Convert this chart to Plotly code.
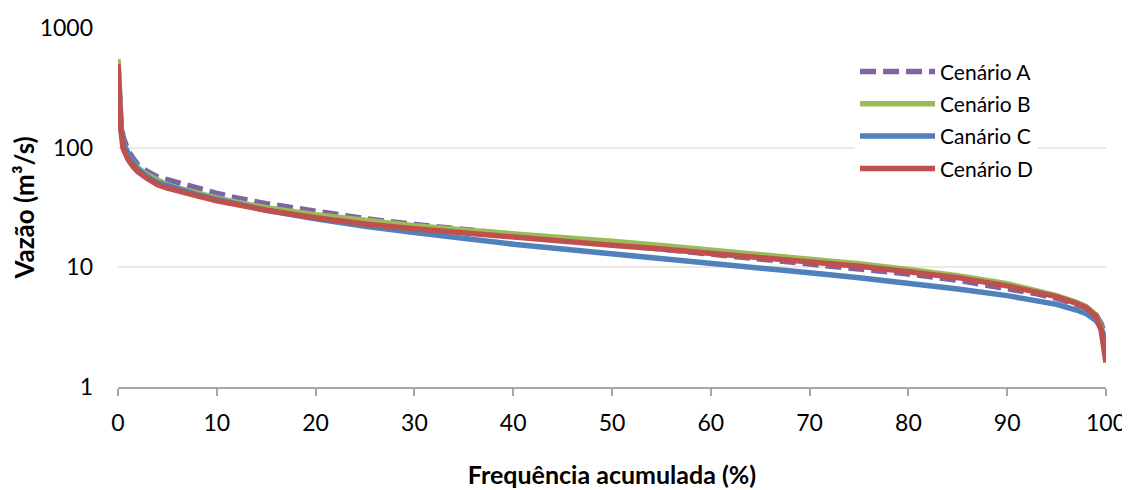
import plotly.graph_objects as go

freq = [0, 0.1, 0.3, 0.5, 1, 1.5, 2, 3, 4, 5, 6, 8, 10, 12, 15, 20, 25, 30, 35, 40,
        45, 50, 55, 60, 65, 70, 75, 80, 85, 90, 93, 95, 97, 98, 99, 99.5, 100]

cen_a = [520, 280, 170, 125, 95, 82, 72, 63, 57, 54, 51, 46, 41.5, 38, 34, 29.5, 25.5, 22.8, 20.6, 18.8,
         17.1, 15.6, 14.2, 12.9, 11.8, 10.8, 9.8, 8.8, 7.8, 6.7, 6.0, 5.5, 4.9, 4.6, 4.0, 3.4, 2.6]
cen_b = [550, 260, 150, 110, 88, 76, 68, 59, 53, 49, 46, 41.5, 38, 35, 31.5, 27.5, 24.5, 22.3, 20.5, 19.2,
         17.8, 16.5, 15.2, 14.0, 12.9, 11.8, 10.7, 9.6, 8.5, 7.3, 6.4, 5.8, 5.1, 4.7, 4.0, 3.2, 2.2]
cen_c = [450, 230, 145, 110, 88, 75, 66, 57, 51, 48, 45, 40.5, 37, 34, 30, 25.5, 22, 19.5, 17.3, 15.6,
         14.2, 12.9, 11.8, 10.7, 9.8, 9.0, 8.2, 7.4, 6.6, 5.8, 5.3, 4.9, 4.4, 4.1, 3.6, 3.1, 2.4]
cen_d = [500, 250, 140, 100, 80, 70, 63, 55, 49, 46, 43.5, 39.5, 36, 33.5, 30, 26, 23, 21, 19.3, 17.8,
         16.5, 15.3, 14.2, 13.1, 12.1, 11.1, 10.2, 9.2, 8.2, 7.0, 6.2, 5.7, 5.0, 4.6, 3.9, 3.0, 1.6]

names = ["Cenário A", "Cenário B", "Canário C", "Cenário D"]
colors = ["#8064A2", "#9BBB59", "#4F81BD", "#C0504D"]
dashes = ["16px,7px", "solid", "solid", "solid"]
x_ticks = [0, 10, 20, 30, 40, 50, 60, 70, 80, 90, 100]
y_ticks = [1, 10, 100, 1000]

FONT = "Lato"

fig = go.Figure()
for i, (name, vals, col, dsh) in enumerate(zip(names, [cen_a, cen_b, cen_c, cen_d], colors, dashes)):
    fig.add_trace(go.Scatter(x=freq, y=vals, mode="lines", name=name, legendgroup=f"g{i}",
                             line=dict(color=col, width=5.5, dash=dsh)))

fig.update_layout(
    width=1130, height=490,
    margin=dict(l=110, r=32, t=20, b=111, autoexpand=False),
    paper_bgcolor="white", plot_bgcolor="white",
    font=dict(family=FONT, size=23, color="black"),
    showlegend=True,
    legend=dict(x=0.746, y=0.935, xanchor="left", yanchor="top",
                bgcolor="white", font=dict(family=FONT, size=21),
                itemwidth=75, tracegroupgap=2),
    xaxis=dict(range=[0, 100], tickvals=x_ticks, ticktext=[str(v) for v in x_ticks],
               automargin=False,
               showgrid=False, zeroline=False, showline=True, linecolor="#A6A6A6", linewidth=1.5,
               ticks="outside", ticklen=7, tickcolor="#A6A6A6", tickwidth=1.5,
               ticklabelstandoff=8, tickfont=dict(family=FONT, size=23),
               title=dict(text="<b>Frequência acumulada (%)</b>", standoff=31,
                          font=dict(family=FONT, size=25))),
    yaxis=dict(type="log", range=[0, 3], tickvals=y_ticks, ticktext=[str(v) for v in y_ticks],
               automargin=False,
               showgrid=True, gridcolor="#EEE9DF", gridwidth=1.5, zeroline=False, showline=False,
               ticks="", ticklabelstandoff=24, tickfont=dict(family=FONT, size=23),
               title=dict(text="<b>Vazão (m³/s)</b>", standoff=12,
                          font=dict(family=FONT, size=26))),
)

fig.write_html("out.html")
